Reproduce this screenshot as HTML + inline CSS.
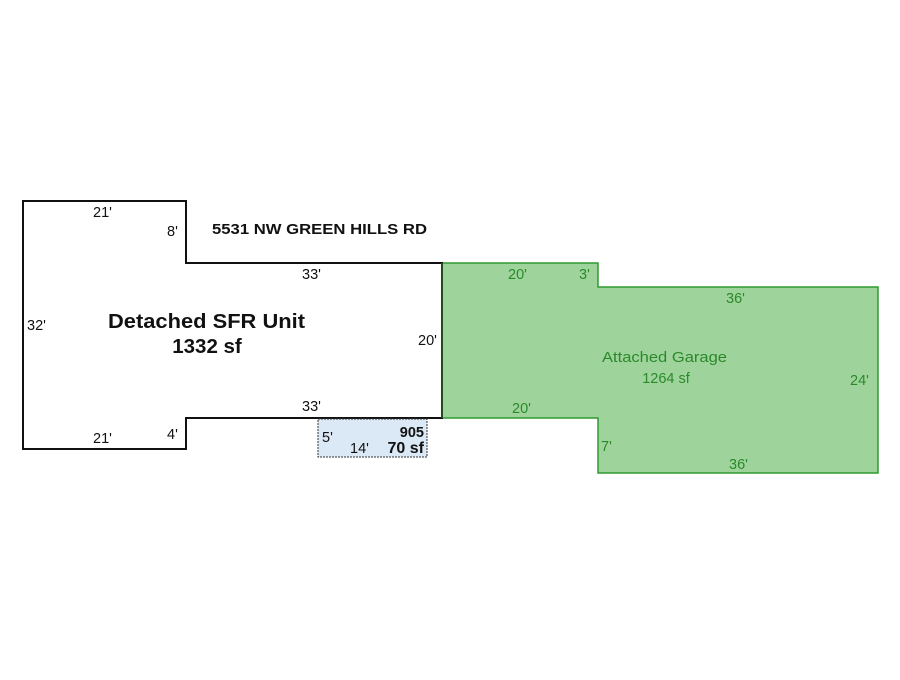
<!DOCTYPE html>
<html><head><style>body{margin:0;background:#fff}</style></head><body>
<svg width="900" height="675" xmlns="http://www.w3.org/2000/svg" font-family="Liberation Sans, sans-serif">
<polygon points="442,263 598,263 598,287 878,287 878,473 598,473 598,418 442,418" fill="#9fd39c" stroke="#2f9a2f" stroke-width="1.5"/>
<polygon points="23,201 186,201 186,263 442,263 442,418 186,418 186,449 23,449" fill="none" stroke="#111" stroke-width="2"/>
<line x1="442" y1="263" x2="442" y2="418" stroke="#1e4d1e" stroke-width="2"/>
<rect x="318" y="419" width="109" height="38" fill="#dbe8f5" stroke="#333" stroke-width="1" stroke-dasharray="2,1"/>
<g font-size="14.5" fill="#111">
<text x="93" y="217">21'</text>
<text x="167" y="236">8'</text>
<text x="302" y="279">33'</text>
<text x="27" y="330">32'</text>
<text x="418" y="345">20'</text>
<text x="302" y="411">33'</text>
<text x="93" y="443">21'</text>
<text x="167" y="439">4'</text>
<text x="322" y="442">5'</text>
<text x="350" y="453">14'</text>
</g>
<text x="212" y="234" font-size="15" font-weight="bold" fill="#111" textLength="215" lengthAdjust="spacingAndGlyphs">5531 NW GREEN HILLS RD</text>
<text x="108" y="328" font-size="20.5" font-weight="bold" fill="#111" textLength="197" lengthAdjust="spacingAndGlyphs">Detached SFR Unit</text>
<text x="207" y="353" font-size="20.5" font-weight="bold" text-anchor="middle" fill="#111">1332 sf</text>
<text x="424" y="437" font-size="14.5" font-weight="bold" text-anchor="end" fill="#111">905</text>
<text x="424" y="453" font-size="16" font-weight="bold" text-anchor="end" fill="#111">70 sf</text>
<g font-size="14.5" fill="#2a8a2a">
<text x="508" y="279">20'</text>
<text x="579" y="279">3'</text>
<text x="726" y="303">36'</text>
<text x="850" y="385">24'</text>
<text x="512" y="413">20'</text>
<text x="601" y="451">7'</text>
<text x="729" y="469">36'</text>
<text x="602" y="362" textLength="125" lengthAdjust="spacingAndGlyphs">Attached Garage</text>
<text x="666" y="383" text-anchor="middle">1264 sf</text>
</g>
</svg>
</body></html>
